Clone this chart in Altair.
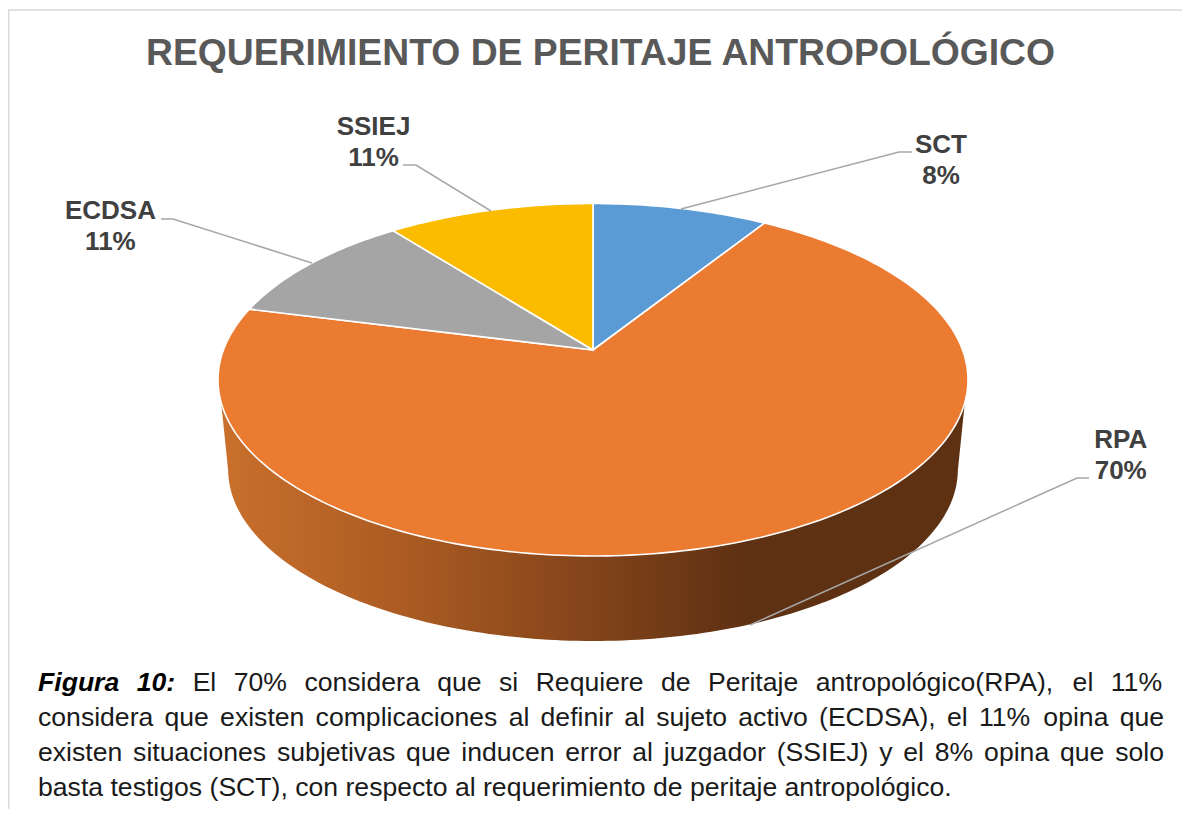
import math
import altair as alt

# ---- values ----
categories = ["SCT", "RPA", "ECDSA", "SSIEJ"]
percent_labels = ["8%", "70%", "11%", "11%"]
# angular shares as they appear on the drawn pie, clockwise from 12 o'clock
drawn_shares = [8.9, 70.1, 10.5, 10.5]
slice_colors = ["#5B9BD5", "#EA7B31", "#A5A5A5", "#FBBC00"]
title_text = "REQUERIMIENTO DE PERITAJE ANTROPOLÓGICO"
caption_lines = [
    "El 70% considera que si Requiere de Peritaje antropológico(RPA), el 11%",
    "considera que existen complicaciones al definir al sujeto activo (ECDSA), el 11% opina que",
    "existen situaciones subjetivas que inducen error al juzgador (SSIEJ) y el 8% opina que solo",
    "basta testigos (SCT), con respecto al requerimiento de peritaje antropológico.",
]
caption_lead = ["Figura", "10:"]

# ---- layout (page pixels, canvas starts at page pixel 8) ----
W, H = 1174, 801
OFF = 8
APEX_X, APEX_Y = 593, 350
PERSP = -0.1688
RX, RY = 369.6, 171.2
DEPTH_Y, DEPTH_SCALE = 440.6, 0.973
label_pos = {"SCT": (941, 152.7), "RPA": (1120.7, 448), "ECDSA": (110.4, 219), "SSIEJ": (373.5, 135)}
leaders = {
    "SCT": [(912, 152), (899, 152), (681, 209)],
    "RPA": [(1089, 478), (1077, 478), (750, 625)],
    "ECDSA": [(161, 219), (173, 219), (312, 263)],
    "SSIEJ": [(403, 165), (416, 165), (491, 211)],
}
LINE_GAP = 31
CAP_SIZE = 26.6
CAP_LEFT, CAP_RIGHT = 38, 1164
CAP_BASE = [690.7, 726, 760.7, 795.7]
cap_width = {"a":556,"b":556,"c":500,"d":556,"e":556,"f":278,"g":556,"h":556,"i":222,"j":222,"k":500,"l":222,
    "m":833,"n":556,"o":556,"p":556,"q":556,"r":333,"s":500,"t":278,"u":556,"v":500,"w":722,"x":500,"y":500,"z":500,
    "A":667,"C":722,"D":722,"E":667,"I":278,"J":500,"P":667,"R":722,"S":667,"T":611,"%":889,"(":333,")":333,
    ",":278,".":278,":":278,"ó":556,"0":556,"1":556,"7":556,"8":556}
lead_width = {"Figura": 3056, "10:": 1445}


def OFF_X(x):
    return round(x - OFF, 2)


def OFF_Y(y):
    return round(y - OFF, 2)


def rim(deg, base_y=APEX_Y, scale=1.0):
    t = math.radians(deg)
    u, v = math.sin(t), -math.cos(t)
    d = 1 + PERSP * v
    return [OFF_X(APEX_X + scale * RX * u / d), OFF_Y(base_y + scale * RY * v / d)]


def feature(kind, coords, **props):
    return {"type": "Feature", "properties": props, "geometry": {"type": kind, "coordinates": coords}}


# slices of the top face
slices = []
start = 0.0
for name, share, color in zip(categories, drawn_shares, slice_colors):
    end = start + share * 3.6
    n = max(2, int(end - start))
    arc = [rim(start + (end - start) * i / n) for i in range(n + 1)]
    ring = [[OFF_X(APEX_X), OFF_Y(APEX_Y)]] + arc + [[OFF_X(APEX_X), OFF_Y(APEX_Y)]]
    slices.append(feature("Polygon", [ring], name=name, color=color))
    start = end

# side wall
top_edge = [rim(a) for a in range(107, 254)]
low_edge = [rim(a, DEPTH_Y, DEPTH_SCALE) for a in range(260, 99, -1)]
wall = [feature("Polygon", [top_edge + low_edge + [top_edge[0]]], name="wall")]

proj = alt.Projection(type="identity", scale=1, translate=[0, 0])

wall_fill = alt.Gradient(
    gradient="linear", x1=0, x2=1, y1=0, y2=0,
    stops=[
        alt.GradientStop(offset=0, color="#C9702C"),
        alt.GradientStop(offset=0.24, color="#AC5C23"),
        alt.GradientStop(offset=0.49, color="#84441A"),
        alt.GradientStop(offset=0.70, color="#5F3113"),
        alt.GradientStop(offset=1, color="#5F3113"),
    ],
)
wall_layer = alt.Chart(alt.Data(values=wall)).mark_geoshape(fill=wall_fill, stroke=None).project(**proj.to_dict())

slice_layer = alt.Chart(alt.Data(values=slices)).mark_geoshape(stroke="white", strokeWidth=1.6).encode(
    fill=alt.Fill("properties.color:N", scale=None, legend=None)
).project(**proj.to_dict())

frame = [feature("LineString", [[0.6, H], [0.6, 2], [W, 2]])]
frame_layer = alt.Chart(alt.Data(values=frame)).mark_geoshape(
    filled=False, stroke="#D9D9D9", strokeWidth=1.6
).project(**proj.to_dict())

leader_feats = [feature("LineString", [[OFF_X(x), OFF_Y(y)] for x, y in pts]) for pts in leaders.values()]
leader_layer = alt.Chart(alt.Data(values=leader_feats)).mark_geoshape(
    filled=False, stroke="#A6A6A6", strokeWidth=1.5
).project(**proj.to_dict())

X = alt.X("x:Q", scale=None, axis=None)
Y = alt.Y("y:Q", scale=None, axis=None)

title_layer = alt.Chart(alt.Data(values=[{"x": OFF_X(600.5), "y": OFF_Y(64.5), "t": title_text}])).mark_text(
    font="Liberation Sans", fontSize=37.3, fontWeight="bold", color="#595959", align="center", baseline="alphabetic"
).encode(x=X, y=Y, text="t:N")

label_rows = []
for name, pct in zip(categories, percent_labels):
    lx, ly = label_pos[name]
    label_rows.append({"x": OFF_X(lx), "y": OFF_Y(ly), "t": name})
    label_rows.append({"x": OFF_X(lx), "y": OFF_Y(ly + LINE_GAP), "t": pct})
label_layer = alt.Chart(alt.Data(values=label_rows)).mark_text(
    font="Liberation Sans", fontSize=26, fontWeight="bold", color="#404040", align="center", baseline="alphabetic"
).encode(x=X, y=Y, text="t:N")


def word_w(word):
    return sum(cap_width[c] for c in word) * CAP_SIZE / 1000


plain_rows, lead_rows = [], []
for i, line in enumerate(caption_lines):
    words = line.split(" ")
    lead = caption_lead if i == 0 else []
    widths = [lead_width[w] * CAP_SIZE / 1000 for w in lead] + [word_w(w) for w in words]
    everything = lead + words
    used = sum(widths)
    gaps = len(everything) - 1
    gap = (CAP_RIGHT - CAP_LEFT - used) / gaps if i < 3 else 0.278 * CAP_SIZE
    x = CAP_LEFT
    for j, (w, wd) in enumerate(zip(everything, widths)):
        row = {"x": OFF_X(x), "y": OFF_Y(CAP_BASE[i]), "t": w}
        (lead_rows if j < len(lead) else plain_rows).append(row)
        x += wd + gap

caption_layer = alt.Chart(alt.Data(values=plain_rows)).mark_text(
    font="Liberation Sans", fontSize=CAP_SIZE, color="#1A1A1A", align="left", baseline="alphabetic"
).encode(x=X, y=Y, text="t:N")
lead_layer = alt.Chart(alt.Data(values=lead_rows)).mark_text(
    font="Liberation Sans", fontSize=CAP_SIZE, fontWeight="bold", fontStyle="italic", color="#000000",
    align="left", baseline="alphabetic"
).encode(x=X, y=Y, text="t:N")

chart = alt.layer(
    frame_layer, wall_layer, slice_layer, leader_layer, title_layer, label_layer, caption_layer, lead_layer
).properties(
    width=W, height=H, padding=0, background="white",
    autosize=alt.AutoSizeParams(type="none"),
).configure_view(stroke=None)

chart.save("out.html", embed_options={"renderer": "svg", "actions": False})
